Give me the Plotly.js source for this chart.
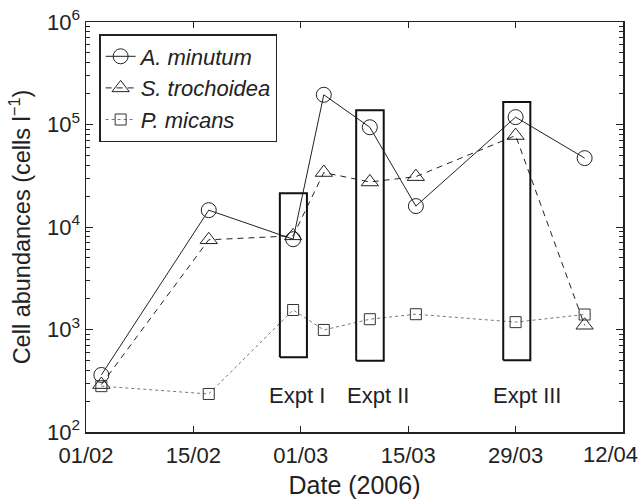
<!DOCTYPE html>
<html>
<head>
<meta charset="utf-8">
<script src="https://cdn.plot.ly/plotly-3.0.1.min.js"></script>
<style>html,body{margin:0;padding:0;background:#fff;}#chart{width:643px;height:500px;}</style>
</head>
<body>
<div id="chart"></div>
<script>
// Sampling dates (2006)
const sampleDates = ['2006-02-03','2006-02-17','2006-02-28','2006-03-04','2006-03-10','2006-03-16','2006-03-29','2006-04-07'];
// Cell abundances (cells l^-1)
const aMinutum    = [360, 14600, 7600, 195000, 94000, 16000, 118000, 47000];
const sTrochoidea = [290, 7500, 8200, 34000, 27500, 31000, 78000, 1100];
const pMicans     = [280, 235, 1550, 990, 1260, 1410, 1180, 1400];
// Experiment boxes
const exptNames  = ['Expt I', 'Expt II', 'Expt III'];
const exptStart  = ['2006-02-26 06:30', '2006-03-08 05:15', '2006-03-27 09:20'];
const exptEnd    = ['2006-03-01 19:10', '2006-03-11 19:25', '2006-03-30 22:05'];
const exptLow    = [535, 496, 502];
const exptHigh   = [21300, 138000, 166000];
const exptLabelX = ['2006-02-28 11:00', '2006-03-11 02:00', '2006-03-30 12:00'];
const exptLabelY = 225;
// Axis ticks (last label drawn as an annotation so it stays inside the page)
const xTickVals = ['2006-02-01','2006-02-15','2006-03-01','2006-03-15','2006-03-29','2006-04-12'];
const xTickText = ['01/02','15/02','01/03','15/03','29/03',''];
const lastTickText = '12/04';
const yTickVals = [100, 1000, 10000, 100000, 1000000];
const yTickText = ['10<sup>2</sup>','10<sup>3</sup>','10<sup>4</sup>','10<sup>5</sup>','10<sup>6</sup>'];

const ink = '#222';
const FONT = 'Liberation Sans, Arial, Helvetica, sans-serif';

const traces = [
  {x: sampleDates, y: aMinutum, name: '<i>A. minutum</i>', type: 'scatter', mode: 'lines+markers',
   line: {color: '#222', width: 1, dash: 'solid'},
   marker: {symbol: 'circle-open', size: 15, color: '#222', line: {width: 1, color: '#222'}}},
  {x: sampleDates, y: sTrochoidea, name: '<i>S. trochoidea</i>', type: 'scatter', mode: 'lines+markers',
   line: {color: '#222', width: 1, dash: '6px,5px'},
   marker: {symbol: 'triangle-up-open', size: 15, color: '#222', line: {width: 1, color: '#222'}}},
  {x: sampleDates, y: pMicans, name: '<i>P. micans</i>', type: 'scatter', mode: 'lines+markers',
   line: {color: '#777', width: 1, dash: 'dot'},
   marker: {symbol: 'square-open', size: 11, color: '#333', line: {width: 1, color: '#333'}}}
];

// Experiment boxes as closed outline traces
exptNames.forEach((n, i) => {
  traces.push({
    x: [exptStart[i], exptStart[i], exptEnd[i], exptEnd[i], exptStart[i]],
    y: [exptLow[i], exptHigh[i], exptHigh[i], exptLow[i], exptLow[i]],
    type: 'scatter', mode: 'lines', showlegend: false, hoverinfo: 'skip',
    line: {color: '#111', width: 2}
  });
});

const annotations = exptNames.map((n, i) => ({
  x: exptLabelX[i], y: Math.log10(exptLabelY), xref: 'x', yref: 'y',
  text: n, showarrow: false, font: {family: FONT, size: 22, color: ink}
}));
annotations.push({
  x: xTickVals[xTickVals.length - 1], y: 0, xref: 'x', yref: 'paper',
  xanchor: 'right', yanchor: 'top', xshift: 17, yshift: -8,
  text: lastTickText, showarrow: false, font: {family: FONT, size: 22, color: ink}
});

const layout = {
  width: 643, height: 500,
  margin: {l: 86, r: 20, t: 22, b: 68},
  paper_bgcolor: '#fff', plot_bgcolor: '#fff',
  font: {family: FONT, color: ink, size: 22},
  showlegend: true,
  legend: {x: 0.025, y: 0.97, xanchor: 'left', yanchor: 'top',
           bordercolor: '#222', borderwidth: 1.2, bgcolor: '#fff',
           font: {family: FONT, size: 22, color: ink}, tracegroupgap: 0},
  xaxis: {
    type: 'date', range: ['2006-02-01', '2006-04-12'],
    tickvals: xTickVals, ticktext: xTickText, ticklabelstandoff: 3,
    ticks: 'inside', ticklen: 6, tickwidth: 1, tickcolor: '#222',
    showline: true, linecolor: '#222', linewidth: 1.5, mirror: 'allticks',
    showgrid: false, zeroline: false,
    tickfont: {family: FONT, size: 22, color: ink},
    title: {text: 'Date (2006)', font: {family: FONT, size: 25, color: ink}, standoff: 9}
  },
  yaxis: {
    type: 'log', range: [2, 6],
    tickvals: yTickVals, ticktext: yTickText,
    ticks: 'inside', ticklen: 7, tickwidth: 1, tickcolor: '#222',
    minor: {ticks: 'inside', ticklen: 4, tickwidth: 1, tickcolor: '#222', dtick: 'D1', showgrid: false},
    showline: true, linecolor: '#222', linewidth: 1.5, mirror: 'allticks',
    showgrid: false, zeroline: false,
    tickfont: {family: FONT, size: 22, color: ink},
    title: {text: 'Cell abundances (cells l<sup>\u22121</sup>)', font: {family: FONT, size: 23.5, color: ink}, standoff: 10}
  },
  annotations: annotations
};

Plotly.newPlot('chart', traces, layout, {displayModeBar: false, staticPlot: true});
</script>
</body>
</html>
